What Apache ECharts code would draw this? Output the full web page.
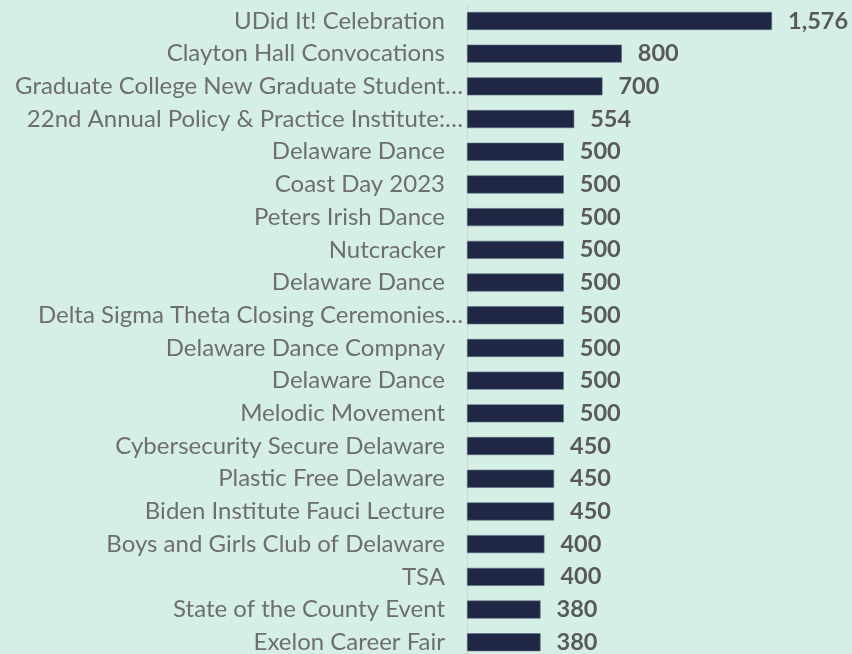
<!DOCTYPE html>
<html>
<head>
<meta charset="utf-8">
<script src="https://cdn.jsdelivr.net/npm/echarts@6/dist/echarts.min.js"></script>
<style>
  html, body { margin: 0; padding: 0; background: #d5efe6; }
  #chart { width: 852px; height: 654px; }
</style>
</head>
<body>
<div id="chart"></div>
<script>
const events = [
  "UDid It! Celebration",
  "Clayton Hall Convocations",
  "Graduate College New Graduate Student…",
  "22nd Annual Policy & Practice Institute:…",
  "Delaware Dance",
  "Coast Day 2023",
  "Peters Irish Dance",
  "Nutcracker",
  "Delaware Dance",
  "Delta Sigma Theta Closing Ceremonies…",
  "Delaware Dance Compnay",
  "Delaware Dance",
  "Melodic Movement",
  "Cybersecurity Secure Delaware",
  "Plastic Free Delaware",
  "Biden Institute Fauci Lecture",
  "Boys and Girls Club of Delaware",
  "TSA",
  "State of the County Event",
  "Exelon Career Fair",
];
const attendance = [1576, 800, 700, 554, 500, 500, 500, 500, 500, 500, 500, 500, 500, 450, 450, 450, 400, 400, 380, 380];

const palette = {
  bg: "#d5efe6",
  bar: "#1f2745",
  label: "#6e6e6e",
  value: "#595959",
  axis: "#d2d6d4",
};

const chart = echarts.init(document.getElementById("chart"), null, { renderer: "canvas" });
chart.setOption({
  backgroundColor: palette.bg,
  animation: false,
  grid: { left: 467, top: 4.6, width: 305, height: 654, outerBoundsMode: "none", containLabel: false },
  xAxis: {
    type: "value",
    min: 0,
    max: 1576,
    show: false,
  },
  yAxis: {
    type: "category",
    inverse: true,
    data: events,
    axisLine: { show: true, lineStyle: { color: palette.axis, width: 1 } },
    axisTick: { show: false },
    splitLine: { show: false },
    axisLabel: {
      interval: 0,
      margin: 4,
      color: palette.label,
      fontFamily: "Lato",
      fontSize: 24,
      formatter: (v) => (v.endsWith("…") ? `{t|${v}}` : `{n|${v}}`),
      rich: {
        t: { color: palette.label, fontFamily: "Lato", fontSize: 24 },
        n: { color: palette.label, fontFamily: "Lato", fontSize: 24, padding: [0, 18, 0, 0] },
      },
    },
  },
  series: [
    {
      type: "bar",
      data: attendance,
      barWidth: 18,
      itemStyle: { color: palette.bar, borderColor: "#5d6b80", borderWidth: 0.6 },
      label: {
        show: true,
        position: "right",
        distance: 16,
        color: palette.value,
        fontFamily: "Lato",
        fontWeight: "bold",
        fontSize: 23.5,
        formatter: (p) => Number(p.value).toLocaleString("en-US"),
      },
    },
  ],
});
</script>
</body>
</html>
